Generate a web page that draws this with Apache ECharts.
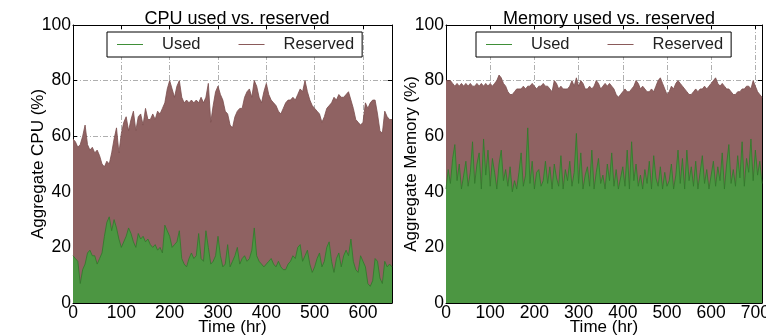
<!DOCTYPE html>
<html>
<head>
<meta charset="utf-8">
<script src="https://cdn.jsdelivr.net/npm/echarts@6/dist/echarts.min.js"></script>
<style>
html, body { margin: 0; padding: 0; background: #fff; }
#main { width: 766px; height: 336px; }
</style>
</head>
<body>
<div id="main"></div>
<script>
// hours between two samples
const cpuStep = 5;
const memStep = 5;

const cpuReserved = [
    59, 58, 56, 57, 60, 64, 57, 55, 56, 54,
    55, 53, 50, 49, 51, 50, 54, 59, 63, 54,
    61, 65, 67, 62, 66, 69, 62, 67, 68, 64,
    70, 66, 66, 68, 66, 69, 68, 70, 72, 77,
    80, 77, 74, 78, 80, 74, 72, 73, 72, 73,
    72, 73, 72, 74, 72, 74, 79, 65, 71, 76,
    78, 75, 73, 69, 68, 64, 63, 67, 69, 70,
    70, 74, 76, 77, 74, 80, 78, 74, 72, 76,
    79, 75, 73, 72, 71, 69, 68, 70, 72, 73,
    73, 74, 73, 75, 77, 76, 80, 76, 73, 71,
    70, 69, 68, 65, 67, 70, 71, 72, 74, 73,
    75, 74, 74, 75, 76, 73, 70, 66, 65, 64,
    65, 72, 70, 72, 73, 73, 68, 62, 61, 69,
    67, 66, 66
];
const cpuUsed = [
    17, 16, 15, 7, 12, 14, 18, 19, 17, 17,
    14, 16, 18, 24, 29, 31, 26, 30, 27, 23,
    20, 22, 24, 27, 25, 22, 20, 25, 23, 24,
    22, 23, 21, 20, 21, 19, 20, 18, 28, 26,
    24, 20, 21, 22, 26, 16, 14, 13, 16, 18,
    16, 17, 25, 16, 15, 26, 20, 14, 15, 17,
    24, 17, 13, 14, 21, 13, 15, 17, 20, 14,
    16, 17, 15, 16, 19, 27, 17, 15, 14, 13,
    14, 15, 16, 14, 13, 15, 13, 12, 12, 14,
    15, 17, 16, 20, 21, 15, 17, 19, 14, 11,
    13, 16, 18, 13, 15, 20, 22, 15, 11, 16,
    18, 13, 17, 19, 17, 23, 15, 12, 11, 17,
    15, 13, 7, 6, 8, 16, 15, 9, 7, 15,
    13, 14, 13
];
const memReserved = [
    80, 80, 80, 79, 78, 79, 78, 79, 78, 79,
    78, 79, 78, 78, 79, 78, 79, 78, 79, 78,
    79, 78, 79, 80, 82, 81, 79, 78, 76, 75,
    75, 76, 77, 77, 77, 78, 77, 78, 78, 79,
    78, 77, 78, 78, 79, 78, 78, 77, 76, 80,
    79, 77, 78, 77, 77, 77, 78, 80, 78, 81,
    78, 80, 79, 77, 77, 78, 77, 78, 80, 79,
    77, 78, 79, 78, 79, 78, 77, 75, 74, 75,
    76, 77, 76, 76, 77, 78, 80, 79, 77, 78,
    77, 76, 76, 77, 76, 78, 80, 81, 79, 77,
    75, 76, 78, 77, 79, 80, 79, 78, 77, 76,
    75, 75, 76, 77, 76, 77, 77, 78, 77, 78,
    79, 80, 81, 79, 78, 79, 78, 77, 77, 76,
    75, 75, 76, 76, 77, 77, 78, 78, 77, 80,
    78, 76, 75, 74
];
const memUsed = [
    41, 48, 43, 52, 57, 44, 50, 41, 46, 51,
    42, 47, 58, 43, 50, 54, 41, 59, 46, 55,
    42, 52, 47, 41, 50, 55, 44, 48, 42, 49,
    40, 44, 41, 47, 54, 42, 46, 63, 43, 51,
    41, 47, 48, 42, 44, 51, 43, 49, 41, 50,
    45, 42, 53, 41, 48, 44, 51, 42, 47, 61,
    43, 54, 41, 46, 49, 42, 55, 41, 47, 52,
    43, 46, 41, 50, 44, 54, 42, 48, 41, 45,
    49, 42, 55, 41, 58, 44, 50, 42, 46, 41,
    48, 43, 51, 41, 53, 45, 42, 49, 41, 47,
    42, 44, 50, 41, 46, 55, 43, 52, 41, 55,
    44, 49, 42, 51, 41, 47, 53, 43, 48, 41,
    46, 51, 42, 49, 44, 54, 41, 50, 57, 43,
    48, 42, 53, 45, 58, 42, 52, 47, 59, 44,
    55, 46, 51, 43
];

const cpuMaxHr = 660;
const memMaxHr = 715;

const font = 'Liberation Sans, Arial, sans-serif';
const brown = '#8f6262';
const green = '#4c9642';

let chart = echarts.init(document.getElementById('main'));

function pairs(arr, step) {
    return arr.map((v, i) => [i * step, v]);
}

let gridLine = {
    show: true,
    lineStyle: { color: '#9a9a9a', width: 0.8, type: [5, 2, 1, 2] }
};
let black = { color: '#000', width: 1 };

function xBottom(gi, max) {
    return {
        type: 'value', gridIndex: gi, min: 0, max: max, interval: 100,
        name: 'Time (hr)', nameLocation: 'middle', nameGap: 16, nameMoveOverlap: false,
        nameTextStyle: { fontFamily: font, fontSize: 17, color: '#000' },
        axisLine: { show: true, onZero: false, lineStyle: black },
        axisTick: { show: true, inside: true, length: 4, lineStyle: black },
        axisLabel: {
            margin: 1, fontFamily: font, fontSize: 17.5, color: '#000',
            formatter: v => (v % 100 === 0 ? String(v) : '')
        },
        splitLine: gridLine
    };
}
function xTop(gi, max) {
    return {
        type: 'value', gridIndex: gi, position: 'top', min: 0, max: max, interval: 100,
        axisLine: { show: true, onZero: false, lineStyle: black },
        axisTick: { show: true, inside: true, length: 4, lineStyle: black },
        axisLabel: { show: false },
        splitLine: { show: false }
    };
}
function yLeft(gi, name) {
    return {
        type: 'value', gridIndex: gi, min: 0, max: 100, interval: 20,
        name: name, nameLocation: 'middle', nameGap: 26, nameMoveOverlap: false,
        nameTextStyle: { fontFamily: font, fontSize: 17, color: '#000' },
        axisLine: { show: true, onZero: false, lineStyle: black },
        axisTick: { show: true, inside: true, length: 4, lineStyle: black },
        axisLabel: { margin: 2, fontFamily: font, fontSize: 17.5, color: '#000' },
        splitLine: gridLine
    };
}
function yRight(gi) {
    return {
        type: 'value', gridIndex: gi, position: 'right', min: 0, max: 100, interval: 20,
        axisLine: { show: true, onZero: false, lineStyle: black },
        axisTick: { show: true, inside: true, length: 4, lineStyle: black },
        axisLabel: { show: false },
        splitLine: { show: false }
    };
}
function legendAt(left) {
    return {
        left: left, top: 32,
        orient: 'horizontal',
        backgroundColor: '#fff',
        borderColor: '#000', borderWidth: 1, borderRadius: 0,
        padding: [4, 8, 4, 10],
        itemGap: 38, itemWidth: 26, itemHeight: 1,
        textStyle: { fontFamily: font, fontSize: 16.5, color: '#222', padding: [0, 0, 0, 14] },
        data: [
            { name: 'Used', icon: 'rect', itemStyle: { color: '#3f8f38' } },
            { name: 'Reserved', icon: 'rect', itemStyle: { color: '#8a5a5a' } }
        ]
    };
}
function area(name, xi, yi, data, fill, line, z) {
    return {
        name: name, type: 'line', xAxisIndex: xi, yAxisIndex: yi,
        data: data, symbol: 'none', showSymbol: false,
        lineStyle: { color: line, width: 0.8 },
        itemStyle: { color: fill },
        areaStyle: { color: fill, opacity: 1 },
        z: z
    };
}

let options = {
    animation: false,
    title: [
        { text: 'CPU used vs. reserved', left: 232, top: 5, textAlign: 'center',
          textStyle: { fontFamily: font, fontSize: 18, fontWeight: 'normal', color: '#000' } },
        { text: 'Memory used vs. reserved', left: 604, top: 5, textAlign: 'center',
          textStyle: { fontFamily: font, fontSize: 18, fontWeight: 'normal', color: '#000' } }
    ],
    legend: [legendAt(107), legendAt(476)],
    grid: [
        { left: 73, top: 25, width: 319, height: 278, outerBoundsMode: 'none' },
        { left: 446, top: 25, width: 316, height: 278, outerBoundsMode: 'none' }
    ],
    xAxis: [xBottom(0, cpuMaxHr), xTop(0, cpuMaxHr), xBottom(1, memMaxHr), xTop(1, memMaxHr)],
    yAxis: [yLeft(0, 'Aggregate CPU (%)'), yRight(0), yLeft(1, 'Aggregate Memory (%)'), yRight(1)],
    series: [
        area('Reserved', 0, 0, pairs(cpuReserved, cpuStep), brown, '#7a4c4c', 2),
        area('Used', 0, 0, pairs(cpuUsed, cpuStep), green, '#2f7a2a', 3),
        area('Reserved', 2, 2, pairs(memReserved, memStep), brown, '#7a4c4c', 2),
        area('Used', 2, 2, pairs(memUsed, memStep), green, '#2f7a2a', 3)
    ]
};
chart.setOption(options);
</script>
</body>
</html>
